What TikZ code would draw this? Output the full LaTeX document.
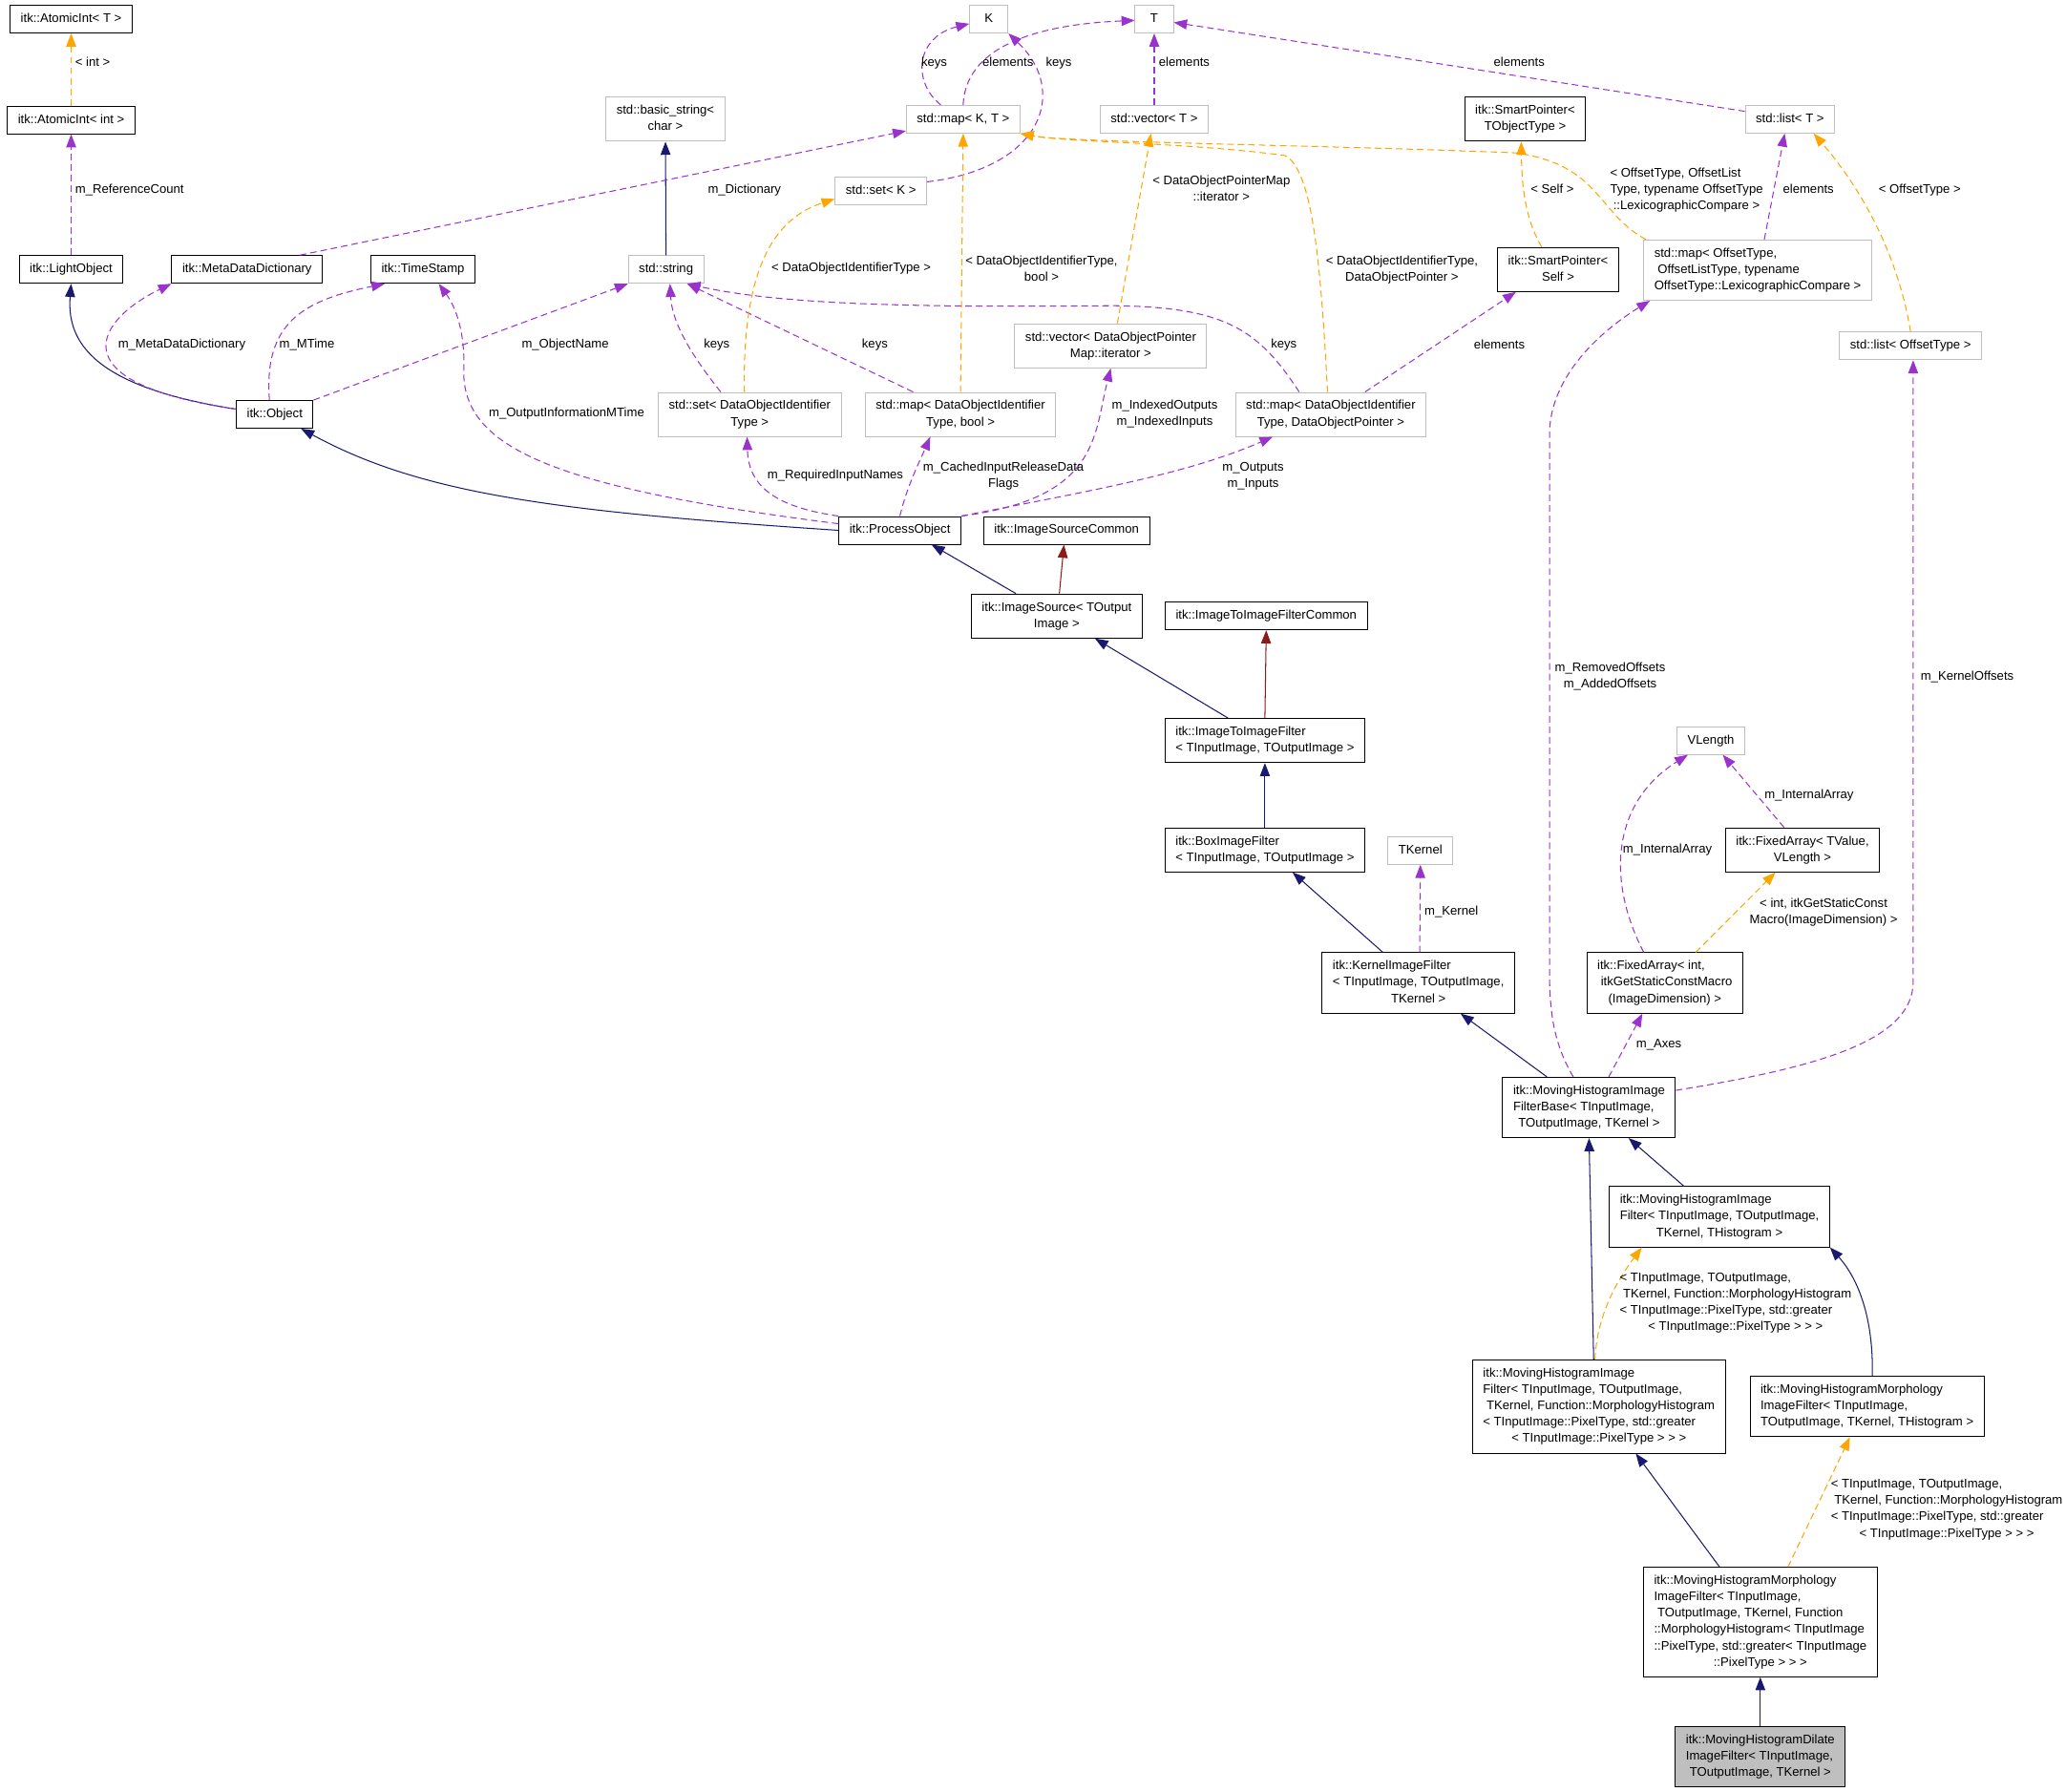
\documentclass[tikz,border=0pt]{standalone}
\usepackage{fontspec}
\setmainfont{Liberation Sans}
\usetikzlibrary{arrows.meta}
\definecolor{edgeNavy}{HTML}{191970}
\definecolor{edgeRed}{HTML}{8B1A1A}
\definecolor{edgePurple}{HTML}{9A32CD}
\definecolor{edgeOrange}{HTML}{FFA500}
\definecolor{boxGray}{HTML}{BFBFBF}
\newcommand{\lbfont}{\fontsize{9.5}{12.4}\selectfont}
\newcommand{\cl}[1]{\begin{tabular}{@{}c@{}}#1\end{tabular}}
\newcommand{\cll}[2]{\begin{tabular}{@{}l@{}}#1\\\multicolumn{1}{@{}c@{}}{#2}\end{tabular}}

\begin{document}
\begin{tikzpicture}[x=1pt, y=-1pt, font=\lbfont,
  classbox/.style={draw=black, line width=0.7pt, inner xsep=8pt, inner ysep=4.3pt},
  extbox/.style={classbox, draw=boxGray},
  selfbox/.style={classbox, fill=boxGray},
  elabel/.style={inner sep=0pt},
  conn/.style={line width=0.75pt, -{Triangle[length=10pt,width=7.5pt]}},
  pubedge/.style={conn, draw=edgeNavy},
  privedge/.style={conn, draw=edgeRed},
  useedge/.style={conn, draw=edgePurple, dash pattern=on 5pt off 3pt},
  tmpledge/.style={conn, draw=edgeOrange, dash pattern=on 5pt off 3pt}]
\path[use as bounding box, fill=white] (0,0) rectangle (1568,1360);

\node[classbox] (aiT) at (54,14.5) {\cl{itk::AtomicInt< T >}};
\node[classbox] (aiInt) at (54,91) {\cl{itk::AtomicInt< int >}};
\node[classbox] (lightObj) at (54,204.5) {\cl{itk::LightObject}};
\node[classbox] (metaDict) at (187.5,204.5) {\cl{itk::MetaDataDictionary}};
\node[classbox] (timeStamp) at (321,204.5) {\cl{itk::TimeStamp}};
\node[extbox] (basicStr) at (505,90.5) {\cll{std::basic\_string<}{char >}};
\node[extbox] (stdStr) at (505.5,204.5) {\cl{std::string}};
\node[classbox] (object) at (208.5,314.5) {\cl{itk::Object}};
\node[extbox, minimum width=29pt] (K) at (750.5,14.5) {\cl{K}};
\node[extbox, minimum width=29pt] (T) at (876,14.5) {\cl{T}};
\node[extbox] (mapKT) at (731,90.5) {\cl{std::map< K, T >}};
\node[extbox] (setK) at (668.5,145) {\cl{std::set< K >}};
\node[extbox] (vecT) at (876,90.5) {\cl{std::vector< T >}};
\node[classbox] (spObj) at (1157.5,90.5) {\cll{itk::SmartPointer<}{TObjectType >}};
\node[extbox] (listT) at (1358.5,90.5) {\cl{std::list< T >}};
\node[classbox] (spSelf) at (1182.5,204.5) {\cll{itk::SmartPointer<}{Self >}};
\node[extbox] (mapOffset) at (1334,205) {\cll{std::map< OffsetType,\\\ OffsetListType, typename}{OffsetType::LexicographicCompare >}};
\node[extbox] (listOffset) at (1450,262.5) {\cl{std::list< OffsetType >}};
\node[extbox] (setDOI) at (569,314.5) {\cll{std::set< DataObjectIdentifier}{Type >}};
\node[extbox] (mapDOIbool) at (729,314.5) {\cll{std::map< DataObjectIdentifier}{Type, bool >}};
\node[extbox] (vecDOPM) at (843,262.5) {\cll{std::vector< DataObjectPointer}{Map::iterator >}};
\node[extbox] (mapDOIDOP) at (1010,314.5) {\cll{std::map< DataObjectIdentifier}{Type, DataObjectPointer >}};
\node[classbox] (procObj) at (683,402.5) {\cl{itk::ProcessObject}};
\node[classbox] (isCommon) at (809.5,402.5) {\cl{itk::ImageSourceCommon}};
\node[classbox] (imgSource) at (802,467.5) {\cll{itk::ImageSource< TOutput}{Image >}};
\node[classbox] (i2iCommon) at (961,467.5) {\cl{itk::ImageToImageFilterCommon}};
\node[classbox] (i2iFilter) at (960,562) {\cll{itk::ImageToImageFilter}{< TInputImage, TOutputImage >}};
\node[classbox] (boxFilter) at (960,645) {\cll{itk::BoxImageFilter}{< TInputImage, TOutputImage >}};
\node[extbox] (tKernel) at (1078,645.5) {\cl{TKernel}};
\node[classbox] (kernelFilter) at (1076.5,746) {\cll{itk::KernelImageFilter\\< TInputImage, TOutputImage,}{TKernel >}};
\node[extbox] (vLength) at (1298.5,562) {\cl{VLength}};
\node[classbox] (faValue) at (1368,645) {\cll{itk::FixedArray< TValue,}{VLength >}};
\node[classbox] (faInt) at (1263.5,746) {\cll{itk::FixedArray< int,\\\ itkGetStaticConstMacro}{(ImageDimension) >}};
\node[classbox] (mhBase) at (1206,840.5) {\cll{itk::MovingHistogramImage\\FilterBase< TInputImage,}{TOutputImage, TKernel >}};
\node[classbox] (mhHist) at (1305,923.5) {\cll{itk::MovingHistogramImage\\Filter< TInputImage, TOutputImage,}{TKernel, THistogram >}};
\node[classbox] (mhMorphHist) at (1213.5,1067.5) {\cll{itk::MovingHistogramImage\\Filter< TInputImage, TOutputImage,\\\ TKernel, Function::MorphologyHistogram\\< TInputImage::PixelType, std::greater}{< TInputImage::PixelType > > >}};
\node[classbox] (mmHist) at (1417,1067.5) {\cll{itk::MovingHistogramMorphology\\ImageFilter< TInputImage,}{TOutputImage, TKernel, THistogram >}};
\node[classbox] (mmGreater) at (1336,1231) {\cll{itk::MovingHistogramMorphology\\ImageFilter< TInputImage,\\\ TOutputImage, TKernel, Function\\::MorphologyHistogram< TInputImage\\::PixelType, std::greater< TInputImage}{::PixelType > > >}};
\node[selfbox] (dilate) at (1336,1333.3) {\cll{itk::MovingHistogramDilate\\ImageFilter< TInputImage,}{TOutputImage, TKernel >}};

\draw[tmpledge] (aiInt) -- (aiT);
\draw[useedge] (lightObj) -- (aiInt);
\draw[pubedge] ([yshift=4pt]object.west) .. controls (80,295) and (50,265) .. (lightObj.south);
\draw[useedge] ([yshift=4pt]object.west) .. controls (40,290) and (75,242) .. (metaDict.south west);
\draw[useedge] ([xshift=-4pt]object.north) .. controls (200,245) and (230,228) .. ([xshift=-29pt]timeStamp.south);
\draw[useedge] (object.north east) -- (stdStr.south west);
\draw[pubedge] (stdStr) -- (basicStr);
\draw[useedge] ([xshift=40pt]metaDict.north) -- ([yshift=2pt]mapKT.south west);
\draw[pubedge] (procObj.west) .. controls (420,388) and (320,375) .. ([xshift=20pt]object.south);
\draw[pubedge] ([xshift=-31pt]imgSource.north) -- ([xshift=24pt]procObj.south);
\draw[privedge] ([xshift=2pt]imgSource.north) -- ([xshift=-2pt]isCommon.south);
\draw[pubedge] ([xshift=-28pt]i2iFilter.north) -- ([xshift=29pt]imgSource.south);
\draw[privedge] (i2iFilter.north) -- (i2iCommon.south);
\draw[pubedge] (boxFilter) -- (i2iFilter);
\draw[pubedge] ([xshift=-27pt]kernelFilter.north) -- ([xshift=21pt]boxFilter.south);
\draw[useedge] ([xshift=1pt]kernelFilter.north) -- (tKernel.south);
\draw[pubedge] ([xshift=-32pt]mhBase.north) -- ([xshift=32pt]kernelFilter.south);
\draw[useedge] ([xshift=15pt]mhBase.north) -- ([xshift=-17pt]faInt.south);
\draw[useedge] ([xshift=-12pt]mhBase.north) .. controls (1178,790) and (1176,765) .. (1176,735) -- (1176,330) .. controls (1176,280) and (1225,245) .. ([xshift=5pt]mapOffset.south west);
\draw[useedge] ([yshift=13pt]mhBase.east) .. controls (1380,810) and (1452,790) .. (1452,745) -- ([xshift=2pt]listOffset.south);
\draw[useedge] ([xshift=-14pt]faValue.north) -- ([xshift=9pt]vLength.south);
\draw[useedge] ([xshift=-16pt]faInt.north) .. controls (1220,670) and (1222,610) .. ([xshift=-17.5pt]vLength.south);
\draw[tmpledge] ([xshift=23.5pt]faInt.north) -- ([xshift=-20.5pt]faValue.south);
\draw[pubedge] ([xshift=-27pt]mhHist.north) -- ([xshift=30pt]mhBase.south);
\draw[pubedge] ([xshift=-4pt]mhMorphHist.north) -- (mhBase.south);
\draw[tmpledge] ([xshift=-3pt]mhMorphHist.north) .. controls (1212,1000) and (1225,975) .. ([xshift=-59pt]mhHist.south);
\draw[pubedge] ([xshift=4pt]mmHist.north) .. controls (1422,1000) and (1410,970) .. (mhHist.south east);
\draw[pubedge] ([xshift=-31pt]mmGreater.north) -- ([xshift=28pt]mhMorphHist.south);
\draw[tmpledge] ([xshift=21pt]mmGreater.north) -- ([xshift=-13pt]mmHist.south);
\draw[pubedge] (dilate) -- (mmGreater);
\draw[useedge] ([xshift=-17pt]mapKT.north) .. controls (692,62) and (695,28) .. ([yshift=-3.5pt]K.west);
\draw[useedge] (mapKT.north) .. controls (733,30) and (800,18) .. ([yshift=-1pt]T.west);
\draw[useedge] ([yshift=7pt]setK.east) .. controls (790,128) and (812,70) .. (K.south east);
\draw[useedge] (vecT) -- (T);
\draw[useedge] ([yshift=6pt]listT.west) -- ([yshift=-2.5pt]T.east);
\draw[useedge] ([xshift=5pt]mapOffset.north) -- ([xshift=-4pt]listT.south);
\draw[tmpledge] (listOffset.north) .. controls (1440,190) and (1410,140) .. ([xshift=18pt]listT.south);
\draw[tmpledge] ([xshift=-12.5pt]spSelf.north) .. controls (1157,165) and (1155,140) .. ([xshift=-3pt]spObj.south);
\draw[tmpledge] ([xshift=2pt]mapOffset.north west) .. controls (1212,162) and (1215,125) .. (1150,116) .. controls (1000,110) and (810,108) .. (mapKT.south east);
\draw[useedge] ([xshift=26pt]mapDOIDOP.north) -- ([xshift=-32pt]spSelf.south);
\draw[tmpledge] ([xshift=-2.5pt]mapDOIDOP.north) .. controls (1002,190) and (995,128) .. (975,118) .. controls (900,108) and (810,108) .. (mapKT.south east);
\draw[useedge] ([xshift=-24pt]mapDOIDOP.north) .. controls (955,250) and (930,233) .. (845,232) .. controls (720,233) and (600,233) .. ([xshift=16pt]stdStr.south);
\draw[useedge] ([xshift=-36pt]mapDOIbool.north) -- ([xshift=16pt]stdStr.south);
\draw[useedge] ([xshift=-22pt]setDOI.north) .. controls (525,270) and (510,245) .. ([xshift=3pt]stdStr.south);
\draw[tmpledge] ([xshift=-4pt]setDOI.north) .. controls (563,200) and (590,165) .. ([yshift=-6pt]setK.west);
\draw[tmpledge] (mapDOIbool.north) -- (mapKT.south);
\draw[tmpledge] ([xshift=5pt]vecDOPM.north) -- ([xshift=-2.5pt]vecT.south);
\draw[useedge] ([yshift=5pt]procObj.west) .. controls (420,370) and (350,340) .. (352,280) .. controls (353,250) and (345,232) .. ([xshift=12pt]timeStamp.south);
\draw[useedge] (procObj.north west) .. controls (590,385) and (568,370) .. ([xshift=-2pt]setDOI.south);
\draw[useedge] (procObj.north) .. controls (688,370) and (698,350) .. ([xshift=-23pt]mapDOIbool.south);
\draw[useedge] (procObj.north east) .. controls (835,378) and (830,330) .. (vecDOPM.south);
\draw[useedge] (procObj.north east) .. controls (830,372) and (900,360) .. ([xshift=-44pt]mapDOIDOP.south);

\node[elabel, anchor=west] (lbInt) at (57,48) {\cl{< int >}};
\node[elabel, anchor=west] (lbRef) at (57,144) {\cl{m\_ReferenceCount}};
\node[elabel] (lbMDD) at (138,261.6) {\cl{m\_MetaDataDictionary}};
\node[elabel] (lbMTime) at (233,261.6) {\cl{m\_MTime}};
\node[elabel] (lbObjName) at (429,261.6) {\cl{m\_ObjectName}};
\node[elabel] (lbDict) at (565,144) {\cl{m\_Dictionary}};
\node[elabel] (lbKeysK) at (709,48) {\cl{keys}};
\node[elabel] (lbElemMap) at (765,48) {\cl{elements}};
\node[elabel] (lbKeysSet) at (803.6,48) {\cl{keys}};
\node[elabel, anchor=west] (lbElemVec) at (879.3,48) {\cl{elements}};
\node[elabel] (lbElemList) at (1153,48) {\cl{elements}};
\node[elabel] (lbSetArg) at (646,204) {\cl{< DataObjectIdentifierType >}};
\node[elabel] (lbMapBoolArg) at (790.5,204.5) {\cl{< DataObjectIdentifierType,\\bool >}};
\node[elabel] (lbVecArg) at (927,144) {\cl{< DataObjectPointerMap\\::iterator >}};
\node[elabel, anchor=west] (lbSelf) at (1161.5,144) {\cl{< Self >}};
\node[elabel] (lbOffsetMap) at (1280,144) {\cll{< OffsetType, OffsetList\\Type, typename OffsetType}{::LexicographicCompare >}};
\node[elabel, anchor=west] (lbElemOff) at (1353,144) {\cl{elements}};
\node[elabel] (lbOffsetType) at (1457,144) {\cl{< OffsetType >}};
\node[elabel] (lbElemSelf) at (1138,262) {\cl{elements}};
\node[elabel] (lbMapPtrArg) at (1064,204.5) {\cl{< DataObjectIdentifierType,\\DataObjectPointer >}};
\node[elabel] (lbKeysSetDOI) at (544,261.6) {\cl{keys}};
\node[elabel] (lbKeysBool) at (664,261.6) {\cl{keys}};
\node[elabel] (lbKeysPtr) at (974.4,261.6) {\cl{keys}};
\node[elabel] (lbOutMTime) at (430,314) {\cl{m\_OutputInformationMTime}};
\node[elabel] (lbReqNames) at (634,361) {\cl{m\_RequiredInputNames}};
\node[elabel] (lbCached) at (761.6,361.5) {\cl{m\_CachedInputReleaseData\\Flags}};
\node[elabel] (lbIndexed) at (884,314.3) {\cl{m\_IndexedOutputs\\m\_IndexedInputs}};
\node[elabel] (lbOutputs) at (951,361.5) {\cl{m\_Outputs\\m\_Inputs}};
\node[elabel, anchor=west] (lbKernel) at (1081,692) {\cl{m\_Kernel}};
\node[elabel] (lbRemoved) at (1222,513.5) {\cl{m\_RemovedOffsets\\m\_AddedOffsets}};
\node[elabel, anchor=west] (lbKernelOff) at (1457.5,514) {\cl{m\_KernelOffsets}};
\node[elabel] (lbArrValue) at (1373,603.5) {\cl{m\_InternalArray}};
\node[elabel] (lbArrInt) at (1265.5,644.8) {\cl{m\_InternalArray}};
\node[elabel] (lbStatic) at (1384,692.3) {\cl{< int, itkGetStaticConst\\Macro(ImageDimension) >}};
\node[elabel, anchor=west] (lbAxes) at (1241.6,792.5) {\cl{m\_Axes}};
\node[elabel] (lbMorphA) at (1317.2,988.7) {\cll{< TInputImage, TOutputImage,\\\ TKernel, Function::MorphologyHistogram\\< TInputImage::PixelType, std::greater}{< TInputImage::PixelType > > >}};
\node[elabel] (lbMorphB) at (1477.5,1145.5) {\cll{< TInputImage, TOutputImage,\\\ TKernel, Function::MorphologyHistogram\\< TInputImage::PixelType, std::greater}{< TInputImage::PixelType > > >}};
\end{tikzpicture}
\end{document}
